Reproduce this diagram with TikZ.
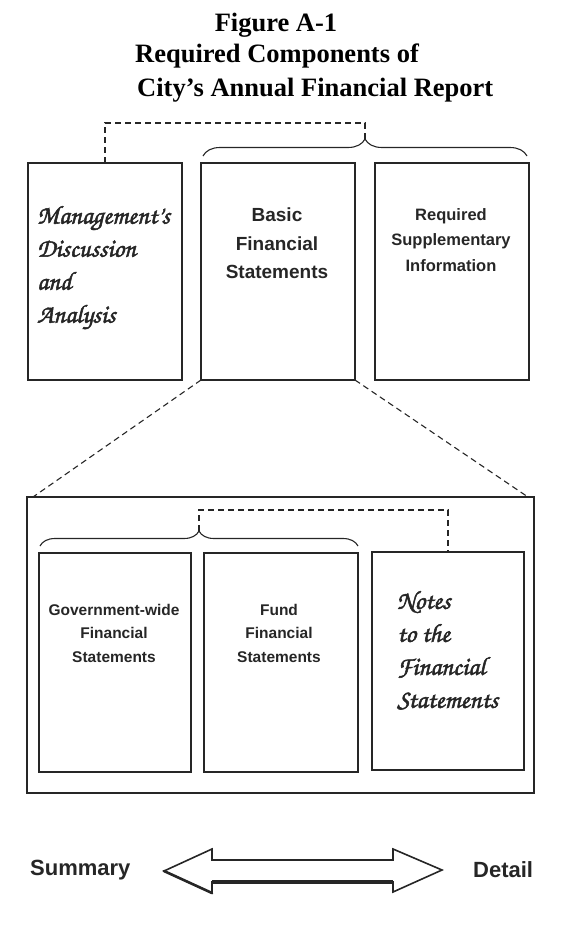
\documentclass[tikz,border=0pt]{standalone}
\usepackage{fontspec}
\setmainfont{Liberation Serif}
\newfontfamily\sansf{Liberation Sans}
\newfontfamily\scr{TeX Gyre Chorus}[FakeBold=2]
\usetikzlibrary{decorations.pathreplacing,calc}
\colorlet{ink}{black!85}
\tikzset{
  panel/.style={draw=ink, line width=1.2pt, inner sep=0pt, outer sep=0pt},
  dashline/.style={draw=ink, line width=1.1pt, dash pattern=on 6pt off 4pt},
  bracestyle/.style={draw=ink, line width=1.1pt, decorate},
  titletxt/.style={inner sep=0pt, font=\bfseries\fontsize{26.5}{30}\selectfont},
  sanstxt/.style={inner sep=0pt, align=center, text=ink},
  scripttxt/.style={inner sep=0pt, align=left, text=ink}
}
\begin{document}
\begin{tikzpicture}[x=1pt,y=-1pt]
\useasboundingbox (0,0) rectangle (587,946);
% title
\node[titletxt, anchor=base] (t1) at (276,31) {Figure A-1};
\node[titletxt, anchor=base west] (t2) at (135,62) {Required Components of};
\node[titletxt, anchor=base west] (t3) at (137,96) {City’s Annual Financial Report};
% top row
\node[panel, minimum width=154pt, minimum height=217pt] (mda) at (105,271.5) {};
\node[panel, minimum width=154pt, minimum height=217pt] (bfs) at (278,271.5) {};
\node[panel, minimum width=154pt, minimum height=217pt] (rsi) at (452,271.5) {};
\node[scripttxt, anchor=north west, font=\scr\fontsize{26}{33}\selectfont] (mdatxt) at (37,206) {Management’s\\Discussion\\and\\Analysis};
\node[sanstxt, anchor=north, font=\sansf\bfseries\fontsize{19}{28.5}\selectfont] (bfstxt) at (277,208) {Basic\\Financial\\Statements};
\node[sanstxt, anchor=north, font=\sansf\bfseries\fontsize{16.5}{25.5}\selectfont] (rsitxt) at (451,208) {Required\\Supplementary\\Information};
% brace + dashed link (top)
\draw[bracestyle, decoration={brace, amplitude=17pt}] (203,156) -- (527,156);
\coordinate (tipA) at (365,139);
\draw[dashline] (mda.north) -- ++(0,-40) -| (tipA);
% big box
\node[panel, line width=1.6pt, minimum width=507pt, minimum height=296pt] (big) at (280.5,645) {};
\draw[dashline] (bfs.south west) -- ($(big.north west)+(6,0)$);
\draw[dashline] (bfs.south east) -- ($(big.north east)+(-6,0)$);
% inner boxes
\node[panel, minimum width=152pt, minimum height=219pt] (gov) at (115,662.5) {};
\node[panel, minimum width=154pt, minimum height=219pt] (fund) at (281,662.5) {};
\node[panel, minimum width=152pt, minimum height=218pt] (notes) at (448,661) {};
\node[sanstxt, anchor=north, font=\sansf\bfseries\fontsize{15.5}{23.5}\selectfont] (govtxt) at (114,604) {Government-wide\\Financial\\Statements};
\node[sanstxt, anchor=north, font=\sansf\bfseries\fontsize{15.5}{23.5}\selectfont] (fundtxt) at (279,604) {Fund\\Financial\\Statements};
\node[scripttxt, anchor=north west, font=\scr\fontsize{26}{33}\selectfont] (notestxt) at (397,591) {Notes\\to the\\Financial\\Statements};
% inner brace + dashed link
\draw[bracestyle, decoration={brace, amplitude=15pt}] (40,546) -- (358,546);
\coordinate (tipB) at (199,531);
\draw[dashline] (tipB) |- ($(notes.north)+(0,-42)$) -- (notes.north);
% bottom arrow
\node[inner sep=0pt, anchor=west, font=\sansf\bfseries\fontsize{22}{26}\selectfont, text=ink] (sum) at (30,870) {Summary};
\node[inner sep=0pt, anchor=west, font=\sansf\bfseries\fontsize{22}{26}\selectfont, text=ink] (det) at (473,870) {Detail};
\draw[ink, line width=1.6pt, line join=miter] (164,871) -- (212,849) -- (212,860) -- (393,860) -- (393,849) -- (442,870) -- (393,892) -- (393,882) -- (212,882) -- (212,893) -- cycle;
\draw[ink, line width=3.2pt] (212,882) -- (393,882);
\draw[ink, line width=2.6pt, line cap=round] (164,871) -- (212,893);
\end{tikzpicture}
\end{document}
